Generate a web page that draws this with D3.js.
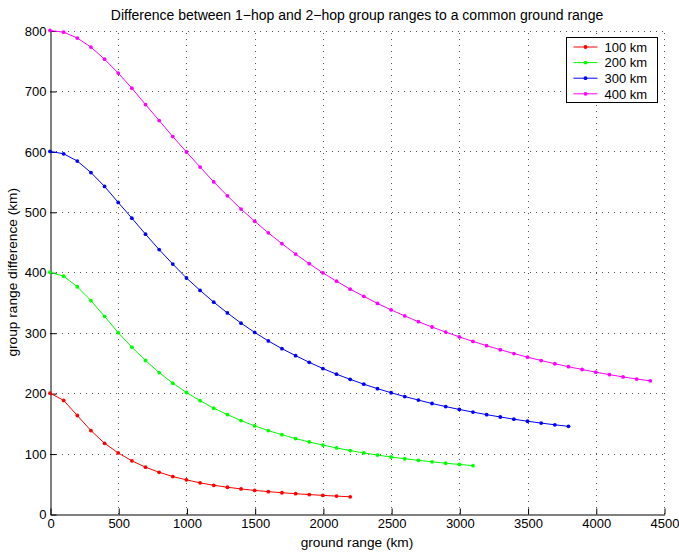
<!DOCTYPE html>
<html>
<head>
<meta charset="utf-8">
<script src="https://cdn.jsdelivr.net/npm/d3@7"></script>
<style>
  html, body { margin: 0; padding: 0; background: #fff; }
  svg { display: block; font-family: "Liberation Sans", Arial, Helvetica, sans-serif; }
</style>
</head>
<body>
<svg id="chart" width="679" height="553"></svg>
<script>
// Layer heights (km) and their legend labels
const heights = [100, 200, 300, 400];
const seriesLabels = ["100 km", "200 km", "300 km", "400 km"];
const seriesColors = ["#ff0000", "#00ff00", "#0000ff", "#ff00ff"];

// Ground range is sampled every 100 km, starting at 0
const rangeStep = 100;

// Group range difference (km) between 1-hop and 2-hop paths
const diff100 = [200, 188, 163, 138, 117, 101, 88, 77.5, 69, 62, 56.5, 51.5, 47.5, 44.3, 41.5,
  39, 37, 35.2, 33.6, 32.1, 30.8, 29.6, 28.5];
const diff200 = [400, 393.5, 376, 353, 327, 300, 276, 254, 234, 216.5, 201, 187.5, 175, 164.5,
  154.5, 145.8, 138, 131.2, 124.8, 119.2, 114, 109.3, 105, 101, 97.5, 94.3, 91.4, 88.8, 86.3,
  84, 82, 80];
const diff300 = [600, 596, 584, 565, 542, 515.5, 489.5, 463, 437.5, 413.5, 390.5, 370, 350.5,
  332.7, 315.8, 300.5, 286.3, 273.6, 262, 251, 240.7, 231.3, 222.8, 214.8, 207.4, 200.6, 194.3,
  188.5, 182.8, 177.7, 173, 168.6, 164.4, 160.5, 156.9, 153.5, 150.4, 147.6, 145];
const diff400 = [800, 797.3, 787.5, 772.5, 752.5, 729.5, 704.5, 677.5, 651, 624.5, 599, 574,
  549.5, 526.5, 504.5, 484.4, 465.2, 447.3, 430, 414.2, 399, 385.2, 372, 360.2, 348.4, 337.7,
  327.7, 318.2, 309.4, 301, 293, 285.6, 278.5, 271.8, 265.5, 259.5, 253.9, 248.6, 243.7, 239.1,
  234.7, 230.6, 226.8, 223.3, 220.3];

const xTicks = [0, 500, 1000, 1500, 2000, 2500, 3000, 3500, 4000, 4500];
const yTicks = [0, 100, 200, 300, 400, 500, 600, 700, 800];

const titleText = "Difference between 1\u2212hop and 2\u2212hop group ranges to a common ground range";
const xLabelText = "ground range (km)";
const yLabelText = "group range difference (km)";

const allSeries = [diff100, diff200, diff300, diff400].map((vals, i) => ({
  label: seriesLabels[i],
  color: seriesColors[i],
  points: vals.map((v, j) => ({ x: j * rangeStep, y: v }))
}));

const svg = d3.select("#chart");
const plot = { left: 50, right: 664, top: 30.5, bottom: 514 };

const x = d3.scaleLinear().domain([0, 4500]).range([plot.left, plot.right]);
const y = d3.scaleLinear().domain([0, 800]).range([plot.bottom, plot.top]);

// Dotted grid
const grid = svg.append("g").attr("stroke", "#555").attr("stroke-width", 1)
  .attr("stroke-dasharray", "1,5");
grid.selectAll("line.v").data(xTicks.filter(t => t > 0)).join("line")
  .attr("x1", d => Math.round(x(d)) + 0.5).attr("x2", d => Math.round(x(d)) + 0.5)
  .attr("y1", plot.bottom).attr("y2", plot.top);
grid.selectAll("line.h").data(yTicks.filter(t => t > 0)).join("line")
  .attr("y1", d => Math.round(y(d)) + 0.5).attr("y2", d => Math.round(y(d)) + 0.5)
  .attr("x1", plot.left).attr("x2", plot.right);

// Axes with inward ticks
const fmt = d3.format("d");
const xAxis = d3.axisBottom(x).tickValues(xTicks).tickFormat(fmt)
  .tickSizeInner(-6).tickSizeOuter(0).tickPadding(4);
const yAxis = d3.axisLeft(y).tickValues(yTicks).tickFormat(fmt)
  .tickSizeInner(-6).tickSizeOuter(0).tickPadding(4);

const gx = svg.append("g").attr("transform", `translate(0.5,${plot.bottom + 0.5})`).call(xAxis);
const gy = svg.append("g").attr("transform", `translate(${plot.left + 0.5},0.5)`).call(yAxis);
[gx, gy].forEach(g => {
  g.selectAll("path").attr("stroke", "#000").attr("stroke-width", 1);
  g.selectAll("line").attr("stroke", "#000");
  g.selectAll("text").attr("fill", "#000").attr("font-size", 13)
    .attr("font-family", "'Liberation Sans', Arial, Helvetica, sans-serif");
});

// Series lines and point markers
const line = d3.line().x(d => x(d.x)).y(d => y(d.y));
const seriesG = svg.append("g");
allSeries.forEach(s => {
  const g = seriesG.append("g");
  g.append("path").datum(s.points).attr("d", line)
    .attr("fill", "none").attr("stroke", s.color).attr("stroke-width", 1);
  g.selectAll("circle").data(s.points).join("circle")
    .attr("cx", d => x(d.x)).attr("cy", d => y(d.y)).attr("r", 1.9)
    .attr("fill", s.color);
});

// Title and axis labels
svg.append("text").attr("x", (plot.left + plot.right) / 2).attr("y", 20)
  .attr("text-anchor", "middle").attr("font-size", 14).text(titleText);
svg.append("text").attr("x", (plot.left + plot.right) / 2).attr("y", 547)
  .attr("text-anchor", "middle").attr("font-size", 13.7).text(xLabelText);
svg.append("text")
  .attr("transform", `translate(17,${(plot.top + plot.bottom) / 2}) rotate(-90)`)
  .attr("text-anchor", "middle").attr("font-size", 13.7).text(yLabelText);

// Legend
const legend = svg.append("g").attr("transform", "translate(566.5,37.5)");
legend.append("rect").attr("width", 91).attr("height", 65)
  .attr("fill", "#fff").attr("stroke", "#000").attr("stroke-width", 1);
const rows = legend.selectAll("g.row").data(allSeries).join("g")
  .attr("transform", (d, i) => `translate(0,${9.5 + i * 15.6})`);
rows.append("line").attr("x1", 7).attr("x2", 31).attr("y1", 0).attr("y2", 0)
  .attr("stroke", d => d.color).attr("stroke-width", 1);
rows.append("circle").attr("cx", 19).attr("cy", 0).attr("r", 1.9).attr("fill", d => d.color);
rows.append("text").attr("x", 38).attr("y", 4.7).attr("font-size", 13).text(d => d.label);
</script>
</body>
</html>
